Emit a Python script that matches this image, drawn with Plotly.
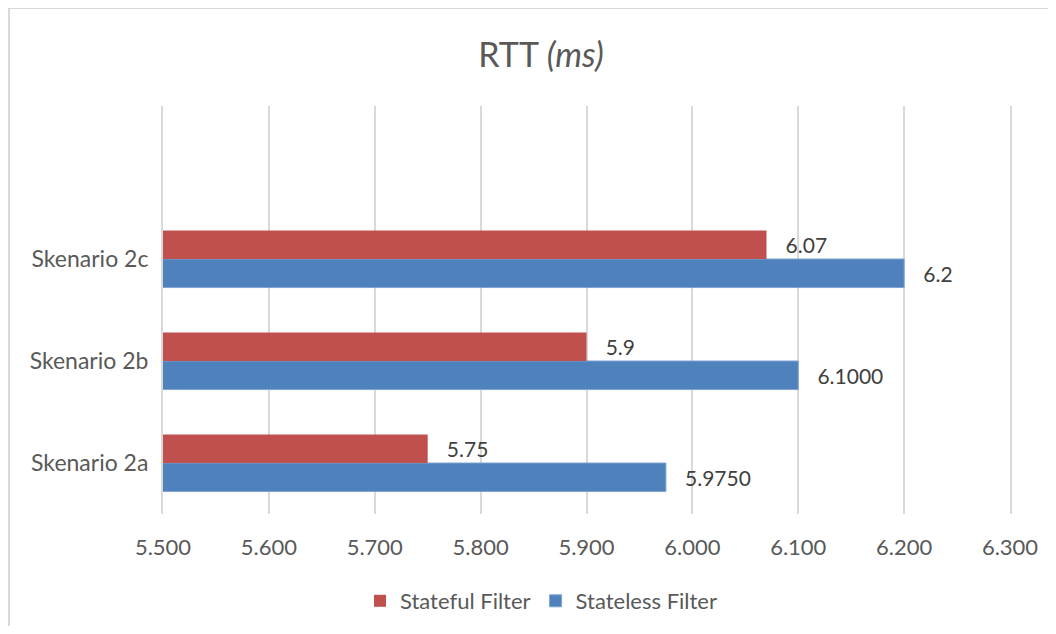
import plotly.graph_objects as go

categories = ["Skenario 2a", "Skenario 2b", "Skenario 2c"]
stateful = [5.75, 5.9, 6.07]
stateless = [5.975, 6.1, 6.2]
stateful_labels = ["5.75", "5.9", "6.07"]
stateless_labels = ["5.9750", "6.1000", "6.2"]
x_ticks = [5.5, 5.6, 5.7, 5.8, 5.9, 6.0, 6.1, 6.2, 6.3]

# page has an 8px body margin; figure occupies page (8,8)..(1048,626)
OFF = 8
W, H = 1040, 618
L, R, T, B = 163 - OFF, 1048 - 1010, 106 - OFF, 626 - 514
pw, ph = W - L - R, H - T - B


def px_x(x):  # page x -> paper x
    return (x - OFF - L) / pw


def px_y(y):  # page y -> paper y
    return (H - B - (y - OFF)) / ph


FONT = "Lato"
GREY = "#595959"
GRID = "#D9D9D9"

fig = go.Figure()
fig.add_trace(go.Bar(
    y=categories, x=stateless, orientation="h", name="Stateless Filter",
    marker=dict(color="#4F81BD", line=dict(color="#7FA3D0", width=1)),
    text=["   " + s for s in stateless_labels], textposition="outside",
    textfont=dict(family=FONT, size=21, color="#404040"),
    cliponaxis=False, legendrank=2,
))
fig.add_trace(go.Bar(
    y=categories, x=stateful, orientation="h", name="Stateful Filter",
    marker=dict(color="#C0504D", line=dict(color="#C0504D", width=0)),
    text=["   " + s for s in stateful_labels], textposition="outside",
    textfont=dict(family=FONT, size=21, color="#404040"),
    cliponaxis=False, legendrank=1,
))

fig.update_layout(
    width=W, height=H,
    margin=dict(l=L, r=R, t=T, b=B, autoexpand=False),
    paper_bgcolor="white", plot_bgcolor="white",
    barmode="group", bargap=0.44, bargroupgap=0,
    title=dict(text="RTT <i>(ms)</i>", x=(541 - OFF) / W, xanchor="center",
               y=1 - (55 - OFF) / H, yanchor="middle",
               font=dict(family=FONT, size=34, color=GREY)),
    font=dict(family=FONT, color=GREY, size=22),
    xaxis=dict(range=[5.5, 6.3], tickvals=x_ticks, tickformat=".3f",
               showgrid=True, gridcolor=GRID, gridwidth=2,
               zeroline=False, showline=False, ticks="",
               ticklabelstandoff=18,
               tickfont=dict(family=FONT, size=22, color=GREY)),
    yaxis=dict(type="category", categoryorder="array", categoryarray=categories,
               range=[-0.5, 3.5], showgrid=False, zeroline=False, ticks="",
               showline=True, linecolor=GRID, linewidth=2, mirror=True,
               ticklabelstandoff=8,
               tickfont=dict(family=FONT, size=23, color=GREY)),
    legend=dict(orientation="h", x=px_x(541), xanchor="center",
                y=px_y(580), yanchor="top",
                font=dict(family=FONT, size=22, color=GREY),
                tracegroupgap=0),
    showlegend=True,
)
# chart border (top and left edges visible)
fig.add_shape(type="line", xref="paper", yref="paper",
              x0=px_x(8), x1=px_x(1056), y0=px_y(8), y1=px_y(8),
              line=dict(color=GRID, width=2))
fig.add_shape(type="line", xref="paper", yref="paper",
              x0=px_x(9), x1=px_x(9), y0=px_y(8), y1=px_y(634),
              line=dict(color=GRID, width=2))

fig.write_html("out.html")
